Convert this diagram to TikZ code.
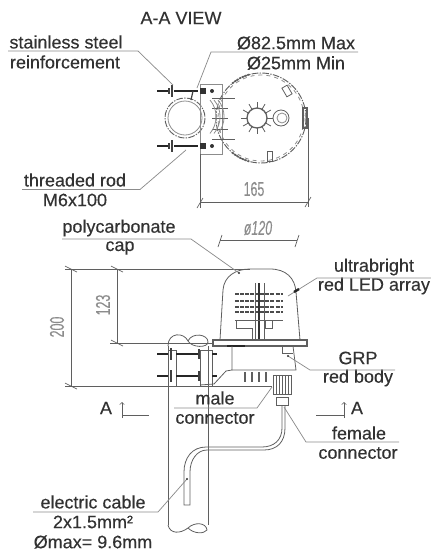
\documentclass[tikz,border=0pt]{standalone}
\usepackage{fontspec}
\usepackage{xcolor}
\usepackage{tikz}
\usetikzlibrary{arrows, positioning, calc}
\setmainfont[FakeBold=0.35]{Liberation Sans}
\definecolor{lbltext}{RGB}{50,50,50}
\definecolor{dimgrey}{RGB}{140,140,140}
\definecolor{partgrey}{RGB}{95,95,95}
\tikzset{
  lbl/.style={inner sep=0pt,text=lbltext,font=\fontsize{13.5}{15}\selectfont},
  dimtext/.style={inner sep=0pt,text=dimgrey,font=\fontsize{15}{17}\selectfont,xscale=0.62,transform shape},
  leader/.style={draw=dimgrey,line width=0.55pt},
  dimline/.style={draw=partgrey,line width=0.5pt},
  part/.style={draw=partgrey,line width=0.6pt},
  ringdash/.style={draw=partgrey,line width=0.7pt,dash pattern=on 5pt off 1pt on 1pt off 1pt},
  rod/.style={draw=black!85,line width=2.2pt},
  wash/.style={draw=black!75,line width=0.9pt}
}
\begin{document}
\begin{tikzpicture}[x=0.75pt,y=-0.75pt]
\useasboundingbox (0,0) rectangle (431,551);
% Title
\node[lbl] (title) at (181,18) {A-A VIEW};
% Top view: pole ring
\draw[ringdash] (185,118) circle (20);
\draw[part,draw=dimgrey] (185,118) circle (17);
% Top view: body ring
\draw[ringdash] (261,118) circle (45);
\draw[part,draw=dimgrey,dashed] (261,118) circle (43);
\draw[part,line width=1.3pt,dash pattern=on 1.5pt off 0.7pt] (261,118) ++(130:45) arc (130:105:45);
\draw[part,line width=1.3pt,dash pattern=on 1.5pt off 0.7pt] (261,118) ++(230:45) arc (230:255:45);
% Top view: sun and lobe
\draw[part,line width=1pt] (257,118) circle (10);
\foreach \a in {0,30,...,330}
  \draw[part] (257,118) ++(\a:10) -- ++(\a:6);
\draw[part] (281,118) circle (8);
\draw[part,draw=dimgrey] (282,118) circle (5);
% Top view: lugs
\draw[part,rotate around={30:(287,91)}] (284,86) rectangle (290,96);
\draw[part] (267,151) rectangle (272,161);
\draw[part,line width=0.9pt] (303,108) rectangle (307,128);
% Top view: bracket and fins
\draw[part,draw=dimgrey] (200,84) rectangle (222,154);
\foreach \y/\e in {98/235,108/228,118/228,129/228,139/235}
  \draw[part] (212,\y) -- (\e,\y);
\foreach \r in {4,8,12}
  \draw[part,draw=dimgrey] (206+\r,100) arc (-40:40:26);
% Top view: rods
\foreach \y in {91,146} {
  \draw[rod] (157,\y) -- (170,\y);
  \draw[rod] (174,\y) -- (198,\y);
  \draw[wash] (172,\y-6) -- (172,\y+6);
  \draw[wash] (169,\y-3) -- (169,\y+3);
  \fill[black!80] (200,\y-3) rectangle (206,\y+3);
  \fill[black!80] (212,\y) circle (2);
}
\draw[wash] (193,91) -- (191,100);
% Top view: 165 dimension
\coordinate (dimAl) at (200,202);
\coordinate (dimAr) at (308,202);
\draw[dimline] (200,154) -- (200,208);
\draw[dimline] (308,118) -- (308,207);
\draw[dimline] (dimAl) -- (dimAr);
\draw[dimline] (197,208) -- (203,198);
\draw[dimline] (305,207) -- (311,197);
\node[dimtext] (dimwidth) at (254,189) {165};
% Top view: labels
\node[lbl] (steel) at (66,42) {stainless steel};
\node[lbl] (reinf) at (65,62) {reinforcement};
\coordinate (steelA) at (8,51);
\coordinate (steelB) at (138,51);
\coordinate (steelC) at (173,85);
\draw[leader] (steelA) -- (steelB) -- (steelC);
\node[lbl] (pipemax) at (296,43) {Ø82.5mm Max};
\node[lbl] (pipemin) at (296,63) {Ø25mm Min};
\coordinate (pipeA) at (358,52);
\coordinate (pipeB) at (211,52);
\coordinate (pipeC) at (197,88);
\draw[leader] (pipeA) -- (pipeB) -- (pipeC);
\node[lbl] (thread) at (75,180) {threaded rod};
\node[lbl] (msize) at (75,200) {M6x100};
\coordinate (threadA) at (22,189.5);
\coordinate (threadB) at (140,189.5);
\coordinate (threadC) at (186,150);
\draw[leader] (threadA) -- (threadB) -- (threadC);
% Side view: dome
\draw[part] (220,340) -- (223,290) .. controls (224,276) and (236,269) .. (250,269) -- (270,269) .. controls (286,269) and (295,278) .. (296,292) -- (300,340);
% Side view: LED array
\foreach \y in {294,301,307,312} {
  \draw[part,draw=black!70,line width=2pt,dash pattern=on 3pt off 0.8pt] (235,\y) -- (283,\y);
}
\draw[part,draw=black!80,line width=1.2pt] (259,283) -- (259,340);
\draw[part] (255,283) -- (255,340);
\draw[part] (264,283) -- (264,340);
\draw[part] (235,320) -- (283,320);
\draw[part] (236,320) -- (236,328) -- (252,328) -- (252,340);
\draw[part] (265,320) -- (265,328) -- (272,328) -- (272,320);
% Side view: base plate and body
\draw[part,line width=0.9pt] (213,340) rectangle (307,346);
\draw[draw=black!85,line width=1.3pt] (227,346) -- (245,346);
\draw[part] (232,346) -- (232,370) -- (226,371) -- (214,384) -- (200,385);
\draw[part] (293,346) -- (296,370) -- (232,370);
\draw[part] (282,346) -- (282,353) -- (293,353);
\foreach \x in {245,252,259,266}
  \draw[part,line width=0.9pt] (\x,372) -- (\x,382);
% Side view: pole
\draw[part] (168,346) -- (168,525);
\draw[part] (208,346) -- (208,525);
\draw[part] (168,346) .. controls (168,332) and (184,332) .. (188,341) .. controls (192,348) and (208,348) .. (208,342);
\draw[part] (188,341) .. controls (192,332) and (208,334) .. (208,342);
\draw[part] (168,525) .. controls (170,534) and (180,534) .. (188,528) .. controls (194,522) and (206,522) .. (207,530) .. controls (204,534) and (194,534) .. (188,528);
% Side view: clamp and rods
\draw[part] (168,350) rectangle (176,386);
\draw[part] (200,350) rectangle (212,386);
\foreach \y in {354,376} {
  \draw[rod] (157,\y) -- (168,\y);
  \draw[rod] (176,\y) -- (198,\y);
  \draw[rod] (212,\y) -- (217,\y);
  \draw[wash] (171,\y-6) -- (171,\y+6);
  \draw[wash] (199,\y-5) -- (199,\y+5);
}
% Side view: connector
\foreach \x in {276,279,...,290}
  \draw[part,line width=0.7pt] (\x,375) -- (\x,394);
\draw[part] (273,375) rectangle (291,394);
\draw[part] (276,397) rectangle (288,405);
% Side view: cable
\draw[part] (282,405) -- (282,428) .. controls (282,440) and (274,447) .. (262,447) -- (206,447) .. controls (192,447) and (184,458) .. (184,472) -- (184,505) -- (190,505) -- (190,472) .. controls (190,460) and (197,450) .. (207,450) -- (264,450) .. controls (277,450) and (285,442) .. (285,428) -- (285,405);
% Side view: dimensions
\coordinate (dimBt) at (71,269);
\coordinate (dimBb) at (71,386);
\coordinate (dimCt) at (117,269);
\coordinate (dimCb) at (117,343);
\draw[dimline] (65,269) -- (250,269);
\draw[dimline] (110,343) -- (213,343);
\draw[dimline] (65,386) -- (272,386);
\draw[dimline] (dimBt) -- (dimBb);
\draw[dimline] (dimCt) -- (dimCb);
\foreach \x/\y in {71/269,71/386,117/269,117/343}
  \draw[dimline] (\x-6,\y-3) -- (\x+6,\y+3);
\node[rotate=90,dimtext] (dimtotal) at (57,327) {200};
\node[rotate=90,dimtext] (dimcap) at (103,305) {123};
\coordinate (dimDl) at (220,240);
\coordinate (dimDr) at (297,240);
\draw[dimline] (dimDl) -- (dimDr);
\draw[dimline] (218,247) -- (222,235);
\draw[dimline] (295,247) -- (299,235);
\node[dimtext,font=\fontsize{15}{17}\selectfont\itshape] (dimdia) at (258,228) {ø120};
% Side view: labels
\node[lbl] (poly) at (119,228) {polycarbonate};
\node[lbl] (cap) at (120,248) {cap};
\coordinate (polyA) at (62,239);
\coordinate (polyB) at (191,239);
\coordinate (polyC) at (239,273);
\draw[leader] (polyA) -- (polyB) -- (polyC);
\fill[black!80] (polyC) circle (1.2);
\node[lbl] (ultra) at (374,267) {ultrabright};
\node[lbl] (ledarray) at (374,286) {red LED array};
\coordinate (ultraA) at (431,278);
\coordinate (ultraB) at (317,278);
\coordinate (ultraC) at (288,296);
\draw[leader] (ultraA) -- (ultraB) -- (ultraC);
\draw[draw=black!85,line width=1.8pt] (294,292) -- (299,289);
\node[lbl] (grp) at (358,358) {GRP};
\node[lbl] (redbody) at (358,378) {red body};
\coordinate (grpA) at (395,370);
\coordinate (grpB) at (310,370);
\coordinate (grpC) at (288,356);
\draw[leader] (grpA) -- (grpB) -- (grpC);
\fill[black!80] (grpC) circle (1.2);
\node[lbl] (male) at (215,398) {male};
\node[lbl] (malecon) at (215,418) {connector};
\coordinate (maleA) at (174,408);
\coordinate (maleB) at (257,408);
\coordinate (maleC) at (272,387);
\draw[leader] (maleA) -- (maleB) -- (maleC);
\node[lbl] (female) at (359,433) {female};
\node[lbl] (femalecon) at (358,453) {connector};
\coordinate (femaleA) at (399,442);
\coordinate (femaleB) at (306,442);
\coordinate (femaleC) at (284,407);
\draw[leader] (femaleA) -- (femaleB) -- (femaleC);
\node[lbl] (cable) at (93,502) {electric cable};
\node[lbl] (cablesize) at (93,522) {2x1.5mm²};
\node[lbl] (cablemax) at (93,542) {Ømax= 9.6mm};
\coordinate (cableA) at (33,512);
\coordinate (cableB) at (158,512);
\coordinate (cableC) at (187,479);
\draw[leader] (cableA) -- (cableB) -- (cableC);
\fill[black!80] (cableC) circle (1.2);
% Section marks
\node[lbl] (secL) at (106,408) {A};
\coordinate (secLa) at (122,418);
\coordinate (secLb) at (122,402);
\coordinate (secLc) at (149,415);
\draw[dimline,->] (secLa) -- (secLb);
\draw[dimline] (122,415) -- (secLc);
\node[lbl] (secR) at (357,408) {A};
\coordinate (secRa) at (344,418);
\coordinate (secRb) at (344,402);
\coordinate (secRc) at (316,415);
\draw[dimline,->] (secRa) -- (secRb);
\draw[dimline] (344,415) -- (secRc);
\end{tikzpicture}
\end{document}
